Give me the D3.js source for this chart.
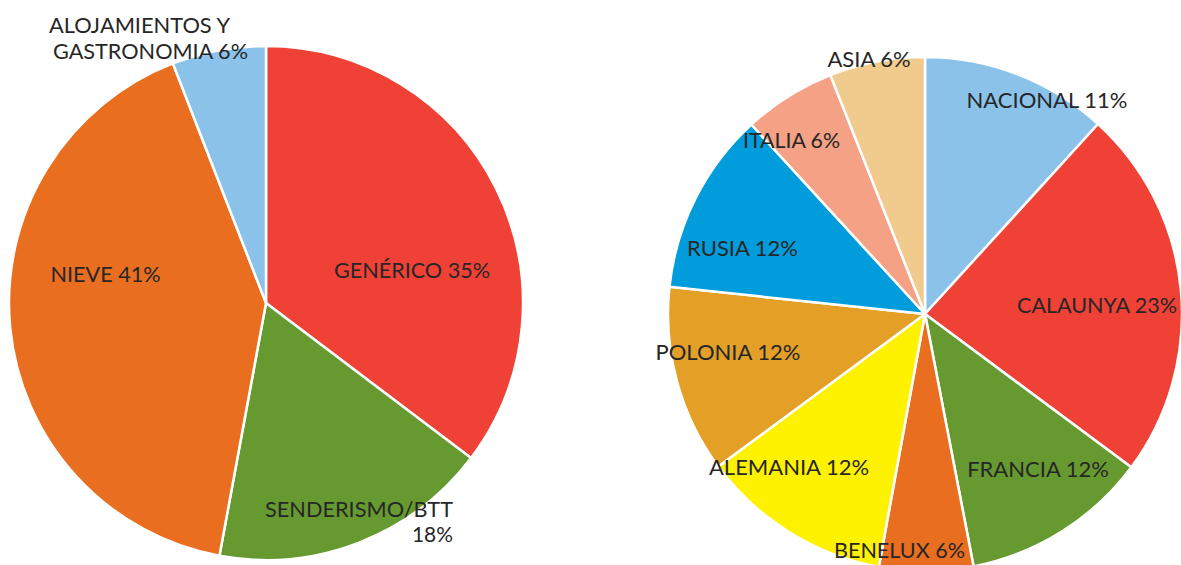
<!DOCTYPE html>
<html>
<head>
<meta charset="utf-8">
<script src="https://cdn.jsdelivr.net/npm/d3@7/dist/d3.min.js"></script>
<style>
  html, body { margin: 0; padding: 0; background: #ffffff; }
  svg { display: block; }
  text { font-family: "Lato", "Open Sans", "DejaVu Sans", sans-serif; fill: #262626; }
</style>
</head>
<body>
<svg id="chart" width="1181" height="565"></svg>
<script>
// ---- Data ----
const leftCategories = ["GENÉRICO", "SENDERISMO/BTT", "NIEVE", "ALOJAMIENTOS Y GASTRONOMIA"];
const leftValues = [35.3, 17.6, 41.2, 5.9];
const leftLabels = [["GENÉRICO 35%"], ["SENDERISMO/BTT", "18%"], ["NIEVE 41%"], ["ALOJAMIENTOS Y", "GASTRONOMIA 6%"]];

const rightCategories = ["NACIONAL", "CALAUNYA", "FRANCIA", "BENELUX", "ALEMANIA", "POLONIA", "RUSIA", "ITALIA", "ASIA"];
const rightValues = [11.75, 23.4, 11.8, 5.9, 12.0, 11.8, 11.5, 5.8, 6.0];
const rightLabels = [["NACIONAL 11%"], ["CALAUNYA 23%"], ["FRANCIA 12%"], ["BENELUX 6%"], ["ALEMANIA 12%"], ["POLONIA 12%"], ["RUSIA 12%"], ["ITALIA 6%"], ["ASIA 6%"]];

// ---- Styles / layout ----
const leftColors = ["#EF4136", "#669A30", "#E96E1F", "#8BC2EA"];
const rightColors = ["#8BC2EA", "#EF4136", "#669A30", "#E96E1F", "#FFF200", "#E39F26", "#009CDB", "#F4A185", "#F0CB8D"];

// label line centres (x) and baselines (y), one entry per line
const leftLabelPos = [
  [[412, 278]],
  [[359, 517], [432.5, 542]],
  [[105.5, 282]],
  [[139.5, 33], [150.5, 58.5]]
];
const leftLabelSize = [22, 22, 22, 21];
const rightLabelPos = [
  [[1047, 108]],
  [[1097, 313]],
  [[1038, 477]],
  [[899.5, 558]],
  [[789, 475]],
  [[728, 360]],
  [[742.5, 256]],
  [[791.5, 148]],
  [[869, 67]]
];
const rightLabelSize = [22, 22, 22, 22, 22, 22, 22, 22, 22];
// target line widths
const leftLabelW = [[156], [188, 41], [110], [181, 195]];
const rightLabelW = [[160], [160], [140], [131], [162], [144], [111], [97], [82]];

const svg = d3.select("#chart");
const R = 257;

function drawPie(cx, cy, values, colors, labels, pos, widths, sizes) {
  const pie = d3.pie().sort(null).value(d => d);
  const arc = d3.arc().innerRadius(0).outerRadius(R);
  const g = svg.append("g").attr("transform", `translate(${cx},${cy})`);
  g.selectAll("path")
    .data(pie(values))
    .join("path")
    .attr("d", arc)
    .attr("fill", (d, i) => colors[i])
    .attr("stroke", "#ffffff")
    .attr("stroke-width", 2.5)
    .attr("stroke-linejoin", "round");
  const lg = svg.append("g");
  labels.forEach((lines, i) => {
    const t = lg.append("text")
      .attr("text-anchor", "middle")
      .attr("font-size", sizes[i]);
    lines.forEach((line, j) => {
      const ts = t.append("tspan")
        .attr("x", pos[i][j][0])
        .attr("y", pos[i][j][1])
        .text(line);
      const w = ts.node().getComputedTextLength();
      const target = widths[i][j];
      if (Math.abs(w - target) > 2) {
        ts.attr("textLength", target).attr("lengthAdjust", "spacingAndGlyphs");
      }
    });
  });
}

drawPie(266, 303, leftValues, leftColors, leftLabels, leftLabelPos, leftLabelW, leftLabelSize);
drawPie(925, 314, rightValues, rightColors, rightLabels, rightLabelPos, rightLabelW, rightLabelSize);
</script>
</body>
</html>
